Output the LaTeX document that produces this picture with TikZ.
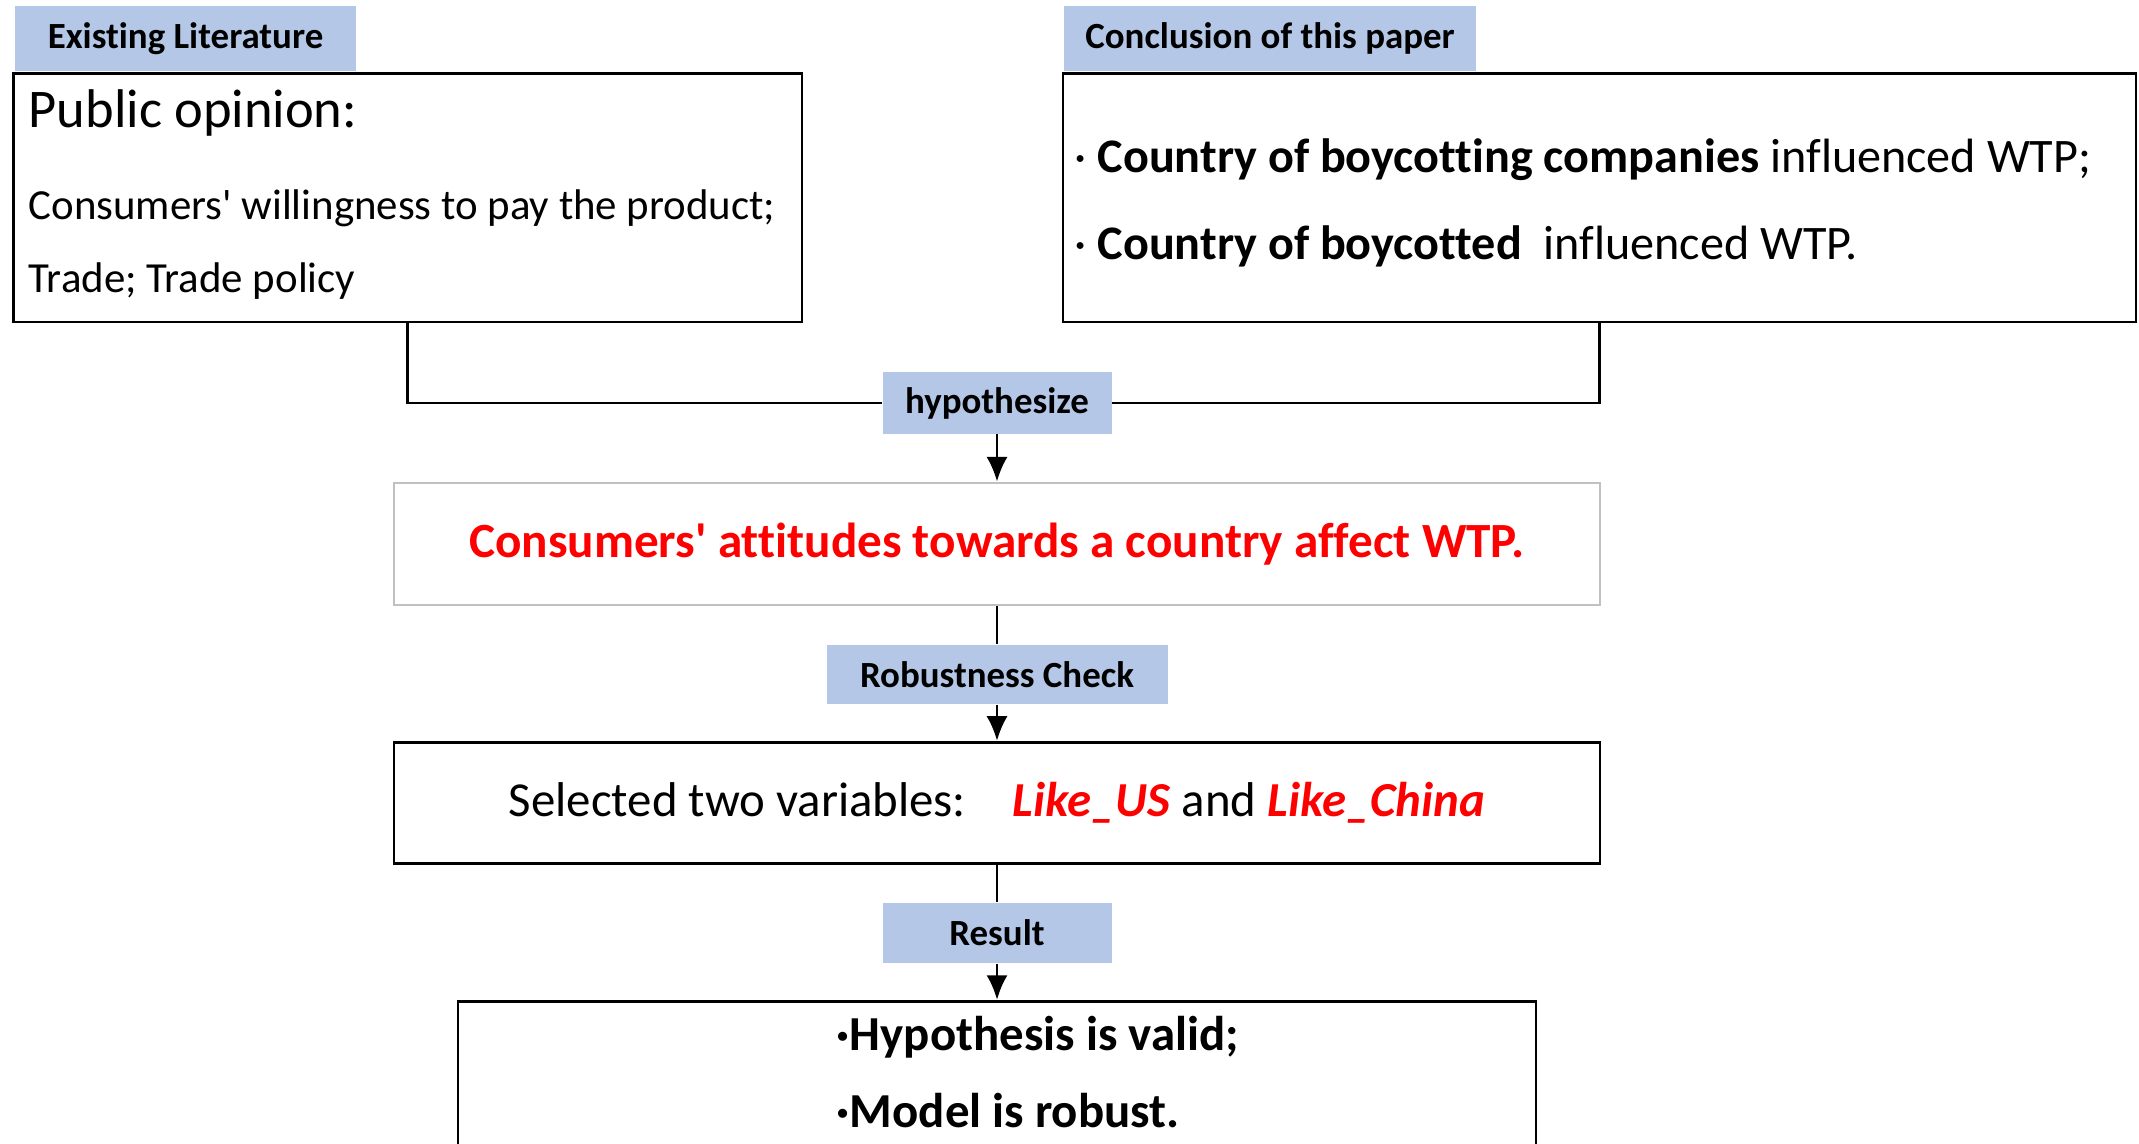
\documentclass[tikz,border=0pt]{standalone}
\usepackage{fontspec}
\setmainfont{Carlito}[Ligatures={NoCommon,TeXOff}]
\usepackage{xcolor}
\usepackage{tikz}
\usetikzlibrary{arrows.meta}
\definecolor{tagblue}{HTML}{B4C7E7}
\definecolor{boxgray}{HTML}{C0C0C0}
\tikzset{tag/.style={fill=tagblue, inner sep=0pt, font=\bfseries\fontsize{10.5}{12}\selectfont}}
\tikzset{box/.style={draw, line width=.8pt, inner sep=0pt}}
\tikzset{link/.style={line width=.8pt}}
\tikzset{arr/.style={line width=.8pt, -{Latex[length=7pt,width=6pt]}}}
\tikzset{txt/.style={anchor=base west, inner sep=0pt}}

\begin{document}
\begin{tikzpicture}[yscale=-1]
\useasboundingbox (0,0) rectangle (21.39,11.44);

\node (lit-tag) [tag, minimum width=3.41cm, minimum height=.655cm] at (1.855,.383) {Existing Literature};
\node (con-tag) [tag, minimum width=4.12cm, minimum height=.655cm] at (12.70,.383) {Conclusion of this paper};

\node (lit) [box, minimum width=7.885cm, minimum height=2.483cm] at (4.078,1.978) {};
\node (lit-a) [txt, font=\fontsize{15.5}{18}\selectfont] at (.28,1.28) {Public opinion:};
\node (lit-b) [txt, font=\fontsize{12.2}{14}\selectfont] at (.28,2.20) {Consumers' willingness to pay the product;};
\node (lit-c) [txt, font=\fontsize{12.2}{14}\selectfont] at (.28,2.93) {Trade; Trade policy};

\node (con) [box, minimum width=10.73cm, minimum height=2.483cm] at (15.995,1.978) {};
\node (con-a) [txt, font=\fontsize{13.7}{16}\selectfont] at (10.74,1.73) {· \textbf{Country of boycotting companies} influenced WTP;};
\node (con-b) [txt, font=\fontsize{13.7}{16}\selectfont] at (10.74,2.60) {· \textbf{Country of boycotted}~~influenced WTP.};

\node (hyp) [tag, minimum width=2.29cm, minimum height=.614cm] at (9.97,4.03) {hypothesize};
\draw[link] (lit.south) |- (hyp.west);
\draw[link] (con.south) |- (hyp.east);

\node (claim) [box, draw=boxgray, line width=.6pt, minimum width=12.06cm, minimum height=1.227cm,
  text=red, font=\bfseries\fontsize{14}{16}\selectfont] at (9.97,5.44) {Consumers' attitudes towards a country affect WTP.};
\draw[arr] (hyp) -- (claim);

\node (rob) [tag, minimum width=3.41cm, minimum height=.59cm] at (9.97,6.745) {Robustness Check};
\draw[link] (claim) -- (rob);

\node (vars) [box, minimum width=12.06cm, minimum height=1.215cm, font=\fontsize{13.9}{16}\selectfont] at (9.97,8.03)
  {Selected two variables:\hspace{.95em}\textcolor{red}{\textbf{\textit{Like\_US}}} and \textcolor{red}{\textbf{\textit{Like\_China}}}};
\draw[arr] (rob) -- (vars);

\node (res) [tag, minimum width=2.29cm, minimum height=.6cm] at (9.97,9.33) {Result};
\draw[link] (vars) -- (res);

\node (out) [box, minimum width=10.78cm, minimum height=1.5cm] at (9.97,10.763) {};
\node (out-a) [txt, font=\bfseries\fontsize{13.9}{16}\selectfont] at (8.36,10.50) {·Hypothesis is valid;};
\node (out-b) [txt, font=\bfseries\fontsize{13.9}{16}\selectfont] at (8.36,11.27) {·Model is robust.};
\draw[arr] (res) -- (out);
\end{tikzpicture}
\end{document}
